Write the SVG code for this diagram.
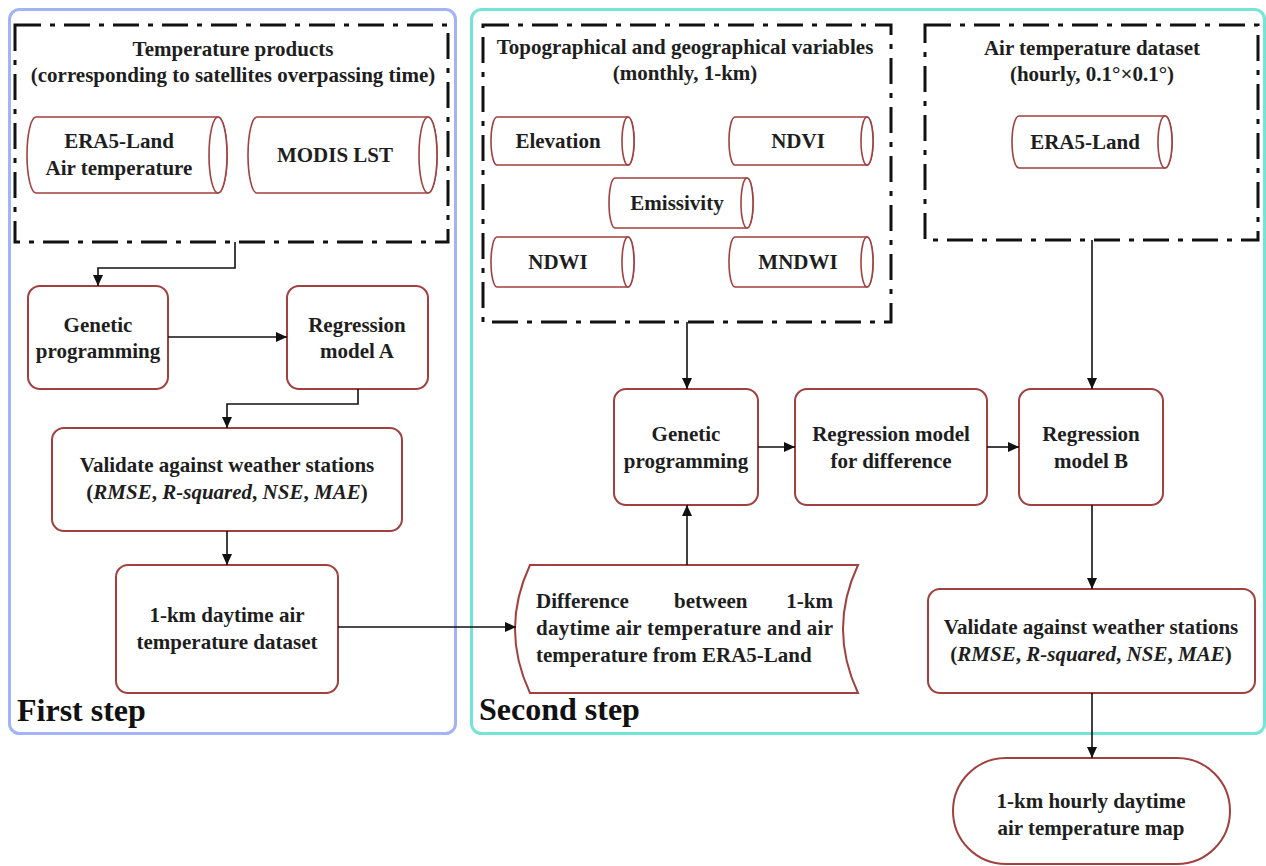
<svg xmlns="http://www.w3.org/2000/svg" width="1266" height="866" viewBox="0 0 1266 866">
<style>
text{font-family:"Liberation Serif","Times New Roman",serif;font-weight:bold;fill:#1e1e1e;font-size:21px}
.c{text-anchor:middle}
.node{fill:#fff;stroke:#a0403f;stroke-width:2}
.cyl{fill:#fff;stroke:#a0403f;stroke-width:1.6}
.dash{fill:none;stroke:#111;stroke-width:3;stroke-dasharray:26 9 5 9}
.conn{fill:none;stroke:#111;stroke-width:1.6;marker-end:url(#ah)}
.step{font-size:32px;fill:#111}
</style>
<defs>
<marker id="ah" markerUnits="userSpaceOnUse" markerWidth="12" markerHeight="10" refX="11" refY="5" orient="auto">
<path d="M0,0 L11,5 L0,10 z" fill="#111"/>
</marker>
</defs>
<rect width="1266" height="866" fill="#fff"/>
<g id="panel-first">
<rect x="9.5" y="9.5" width="446" height="724" rx="10" fill="none" stroke="#a3b3f7" stroke-width="3"/>
<text class="step" x="17" y="721">First step</text>
</g>
<g id="panel-second">
<rect x="471.5" y="9.5" width="793" height="724" rx="10" fill="none" stroke="#74e4d7" stroke-width="3"/>
<text class="step" x="479" y="720">Second step</text>
</g>
<g id="group-temperature-products">
<rect class="dash" x="15" y="25" width="433" height="217"/>
<text class="c" x="233" y="56">Temperature products</text>
<text class="c" x="233" y="82">(corresponding to satellites overpassing time)</text>
</g>
<g id="cyl-era5-air">
<path class="cyl" d="M36,117 H218 A9,38 0 0 1 218,193 H36 A9,38 0 0 1 36,117 Z"/>
<ellipse class="cyl" cx="218" cy="155" rx="9" ry="38"/>
<text class="c" x="119" y="148">ERA5-Land</text>
<text class="c" x="119" y="175">Air temperature</text>
</g>
<g id="cyl-modis">
<path class="cyl" d="M257,117 H428 A9,38 0 0 1 428,193 H257 A9,38 0 0 1 257,117 Z"/>
<ellipse class="cyl" cx="428" cy="155" rx="9" ry="38"/>
<text class="c" x="335" y="162">MODIS LST</text>
</g>
<g id="group-topo">
<rect class="dash" x="483" y="25" width="408" height="297"/>
<text class="c" x="685" y="54">Topographical and geographical variables</text>
<text class="c" x="685" y="80">(monthly, 1-km)</text>
</g>
<g id="cyl-elevation">
<path class="cyl" d="M497,117 H628 A6,24 0 0 1 628,165 H497 A6,24 0 0 1 497,117 Z"/>
<ellipse class="cyl" cx="628" cy="141" rx="6" ry="24"/>
<text class="c" x="558" y="148">Elevation</text>
</g>
<g id="cyl-ndvi">
<path class="cyl" d="M735,117 H867 A6,24 0 0 1 867,165 H735 A6,24 0 0 1 735,117 Z"/>
<ellipse class="cyl" cx="867" cy="141" rx="6" ry="24"/>
<text class="c" x="798" y="148">NDVI</text>
</g>
<g id="cyl-emissivity">
<path class="cyl" d="M615,178 H747 A6,25 0 0 1 747,228 H615 A6,25 0 0 1 615,178 Z"/>
<ellipse class="cyl" cx="747" cy="203" rx="6" ry="25"/>
<text class="c" x="677" y="210">Emissivity</text>
</g>
<g id="cyl-ndwi">
<path class="cyl" d="M497,237 H628 A6,25 0 0 1 628,287 H497 A6,25 0 0 1 497,237 Z"/>
<ellipse class="cyl" cx="628" cy="262" rx="6" ry="25"/>
<text class="c" x="558" y="269">NDWI</text>
</g>
<g id="cyl-mndwi">
<path class="cyl" d="M735,237 H867 A6,25 0 0 1 867,287 H735 A6,25 0 0 1 735,237 Z"/>
<ellipse class="cyl" cx="867" cy="262" rx="6" ry="25"/>
<text class="c" x="798" y="269">MNDWI</text>
</g>
<g id="group-air-dataset">
<rect class="dash" x="925" y="25" width="333" height="215"/>
<text class="c" x="1092" y="55">Air temperature dataset</text>
<text class="c" x="1092" y="81">(hourly, 0.1°×0.1°)</text>
</g>
<g id="cyl-era5-land">
<path class="cyl" d="M1019,116 H1165 A7,26 0 0 1 1165,168 H1019 A7,26 0 0 1 1019,116 Z"/>
<ellipse class="cyl" cx="1165" cy="142" rx="7" ry="26"/>
<text class="c" x="1085" y="149">ERA5-Land</text>
</g>
<g id="gp1">
<rect class="node" x="28" y="286" width="140" height="103" rx="12"/>
<text class="c" x="98" y="332">Genetic</text>
<text class="c" x="98" y="358">programming</text>
</g>
<g id="rma">
<rect class="node" x="287" y="286" width="141" height="103" rx="12"/>
<text class="c" x="357" y="332">Regression</text>
<text class="c" x="357" y="358">model A</text>
</g>
<g id="validate1">
<rect class="node" x="52" y="428" width="350" height="103" rx="12"/>
<text class="c" x="227" y="472">Validate against weather stations</text>
<text class="c" x="227" y="499">(<tspan font-style="italic">RMSE</tspan>, <tspan font-style="italic">R-squared</tspan>, <tspan font-style="italic">NSE</tspan>, <tspan font-style="italic">MAE</tspan>)</text>
</g>
<g id="dataset1km">
<rect class="node" x="116" y="565" width="222" height="128" rx="12"/>
<text class="c" x="227" y="622">1-km daytime air</text>
<text class="c" x="227" y="649">temperature dataset</text>
</g>
<g id="difference">
<path class="node" d="M530,565 L858,565 Q828,629 858,693 L530,693 Q500,629 530,565 Z"/>
<text x="536" y="608">Difference</text>
<text x="674" y="608">between</text>
<text x="833" y="608" text-anchor="end">1-km</text>
<text x="536" y="635" textLength="297" lengthAdjust="spacing">daytime air temperature and air</text>
<text x="536" y="662">temperature from ERA5-Land</text>
</g>
<g id="gp2">
<rect class="node" x="614" y="389" width="144" height="116" rx="12"/>
<text class="c" x="686" y="441">Genetic</text>
<text class="c" x="686" y="468">programming</text>
</g>
<g id="rmdiff">
<rect class="node" x="795" y="389" width="192" height="116" rx="12"/>
<text class="c" x="891" y="441">Regression model</text>
<text class="c" x="891" y="468">for difference</text>
</g>
<g id="rmb">
<rect class="node" x="1019" y="389" width="144" height="116" rx="12"/>
<text class="c" x="1091" y="441">Regression</text>
<text class="c" x="1091" y="468">model B</text>
</g>
<g id="validate2">
<rect class="node" x="928" y="589" width="327" height="104" rx="12"/>
<text class="c" x="1091" y="634">Validate against weather stations</text>
<text class="c" x="1091" y="661">(<tspan font-style="italic">RMSE</tspan>, <tspan font-style="italic">R-squared</tspan>, <tspan font-style="italic">NSE</tspan>, <tspan font-style="italic">MAE</tspan>)</text>
</g>
<g id="map">
<rect class="node" x="953" y="758" width="277" height="106" rx="53"/>
<text class="c" x="1091" y="808">1-km hourly daytime</text>
<text class="c" x="1091" y="835">air temperature map</text>
</g>
<g id="connectors">
<path class="conn" d="M235,242 V268 H98 V286"/>
<path class="conn" d="M168,337 H287"/>
<path class="conn" d="M358,389 V404 H227 V428"/>
<path class="conn" d="M227,531 V565"/>
<path class="conn" d="M338,627 H516"/>
<path class="conn" d="M687,565 V505"/>
<path class="conn" d="M687,322 V389"/>
<path class="conn" d="M758,447 H795"/>
<path class="conn" d="M987,447 H1019"/>
<path class="conn" d="M1092,240 V389"/>
<path class="conn" d="M1092,505 V589"/>
<path class="conn" d="M1092,693 V758"/>
</g>
</svg>
